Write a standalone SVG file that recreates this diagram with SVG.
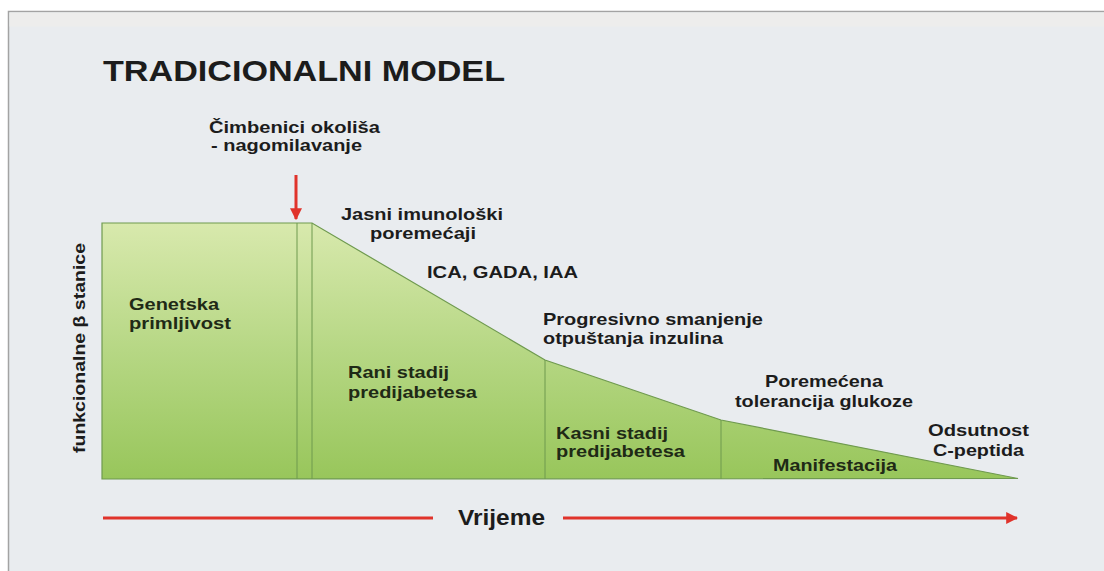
<svg xmlns="http://www.w3.org/2000/svg" width="1104" height="571" viewBox="0 0 1104 571">
  <defs>
    <linearGradient id="grn" gradientUnits="userSpaceOnUse" x1="0" y1="223" x2="0" y2="479">
      <stop offset="0" stop-color="#d8e9ad"/>
      <stop offset="0.5" stop-color="#b6d784"/>
      <stop offset="1" stop-color="#98c65b"/>
    </linearGradient>
    <marker id="ah" viewBox="0 0 10 10" refX="9" refY="5" markerWidth="4" markerHeight="4" orient="auto" markerUnits="strokeWidth">
      <path d="M0,0 L10,5 L0,10 Z" fill="#e0332b"/>
    </marker>
  </defs>
  <style>
    .t{font-family:"Liberation Sans",Arial,sans-serif;font-weight:bold;font-size:17px;fill:#1c1c1c}
    .in{fill:#1f2a16}
    .div{stroke:#6f9a4f;stroke-width:1;fill:none}
    .red{stroke:#e0332b;stroke-width:3;fill:none}
  </style>
  <rect x="0" y="0" width="1104" height="571" fill="#ffffff"/>
  <rect x="8.5" y="11.5" width="1100" height="570" fill="#e9ecef" stroke="#a3a3a3" stroke-width="1.5"/>
  <rect x="9.5" y="12.5" width="1095" height="14" fill="#ededec"/>

  <g id="title">
    <text class="t" x="103" y="81" style="font-size:30px" textLength="402" lengthAdjust="spacingAndGlyphs">TRADICIONALNI MODEL</text>
  </g>

  <g id="chart">
    <path d="M102,223 L312,223 L545,360 L721,420 L1018,478.5 L102,479 Z" fill="url(#grn)" stroke="#6f9a4f" stroke-width="1.2"/>
  </g>

  <g id="stage-genetska">
    <line class="div" x1="297" y1="223" x2="297" y2="479"/>
    <text class="t in" x="129" y="310" textLength="90" lengthAdjust="spacingAndGlyphs">Genetska</text>
    <text class="t in" x="129" y="329" textLength="102" lengthAdjust="spacingAndGlyphs">primljivost</text>
  </g>

  <g id="stage-rani">
    <line class="div" x1="312" y1="223" x2="312" y2="479"/>
    <text class="t in" x="348" y="378" textLength="101" lengthAdjust="spacingAndGlyphs">Rani stadij</text>
    <text class="t in" x="348" y="398" textLength="129" lengthAdjust="spacingAndGlyphs">predijabetesa</text>
  </g>

  <g id="stage-kasni">
    <line class="div" x1="545" y1="360" x2="545" y2="479"/>
    <text class="t in" x="556" y="439" textLength="112" lengthAdjust="spacingAndGlyphs">Kasni stadij</text>
    <text class="t in" x="556" y="457" textLength="129" lengthAdjust="spacingAndGlyphs">predijabetesa</text>
  </g>

  <g id="stage-manifestacija">
    <line class="div" x1="721" y1="420" x2="721" y2="479"/>
    <text class="t in" x="773" y="471" textLength="124" lengthAdjust="spacingAndGlyphs">Manifestacija</text>
  </g>

  <g id="label-okolis">
    <text class="t" x="209" y="133" textLength="171" lengthAdjust="spacingAndGlyphs">Čimbenici okoliša</text>
    <text class="t" x="211" y="151" textLength="151" lengthAdjust="spacingAndGlyphs">- nagomilavanje</text>
  </g>

  <g id="label-jasni">
    <text class="t" x="341" y="220" textLength="162" lengthAdjust="spacingAndGlyphs">Jasni imunološki</text>
    <text class="t" x="370" y="239" textLength="106" lengthAdjust="spacingAndGlyphs">poremećaji</text>
  </g>

  <g id="label-ica">
    <text class="t" x="427" y="278" textLength="151" lengthAdjust="spacingAndGlyphs">ICA, GADA, IAA</text>
  </g>

  <g id="label-progresivno">
    <text class="t" x="543" y="325" textLength="220" lengthAdjust="spacingAndGlyphs">Progresivno smanjenje</text>
    <text class="t" x="543" y="344" textLength="180" lengthAdjust="spacingAndGlyphs">otpuštanja inzulina</text>
  </g>

  <g id="label-poremecena">
    <text class="t" x="765" y="387" textLength="118" lengthAdjust="spacingAndGlyphs">Poremećena</text>
    <text class="t" x="735" y="407" textLength="178" lengthAdjust="spacingAndGlyphs">tolerancija glukoze</text>
  </g>

  <g id="label-odsutnost">
    <text class="t" x="928" y="436" textLength="101" lengthAdjust="spacingAndGlyphs">Odsutnost</text>
    <text class="t" x="933" y="456" textLength="91" lengthAdjust="spacingAndGlyphs">C-peptida</text>
  </g>

  <g id="axis-y">
    <text class="t" transform="translate(85,348) rotate(-90)" text-anchor="middle" textLength="210" lengthAdjust="spacingAndGlyphs">funkcionalne β stanice</text>
  </g>

  <g id="axis-x">
    <text class="t" x="458" y="525" style="font-size:22px" textLength="87" lengthAdjust="spacingAndGlyphs">Vrijeme</text>
  </g>

  <g id="connectors">
    <line class="red" x1="296" y1="175" x2="296" y2="219" stroke-width="2.5" marker-end="url(#ah)"/>
    <line class="red" x1="103" y1="518" x2="433" y2="518"/>
    <line class="red" x1="563" y1="518" x2="1017" y2="518" marker-end="url(#ah)"/>
  </g>
</svg>
